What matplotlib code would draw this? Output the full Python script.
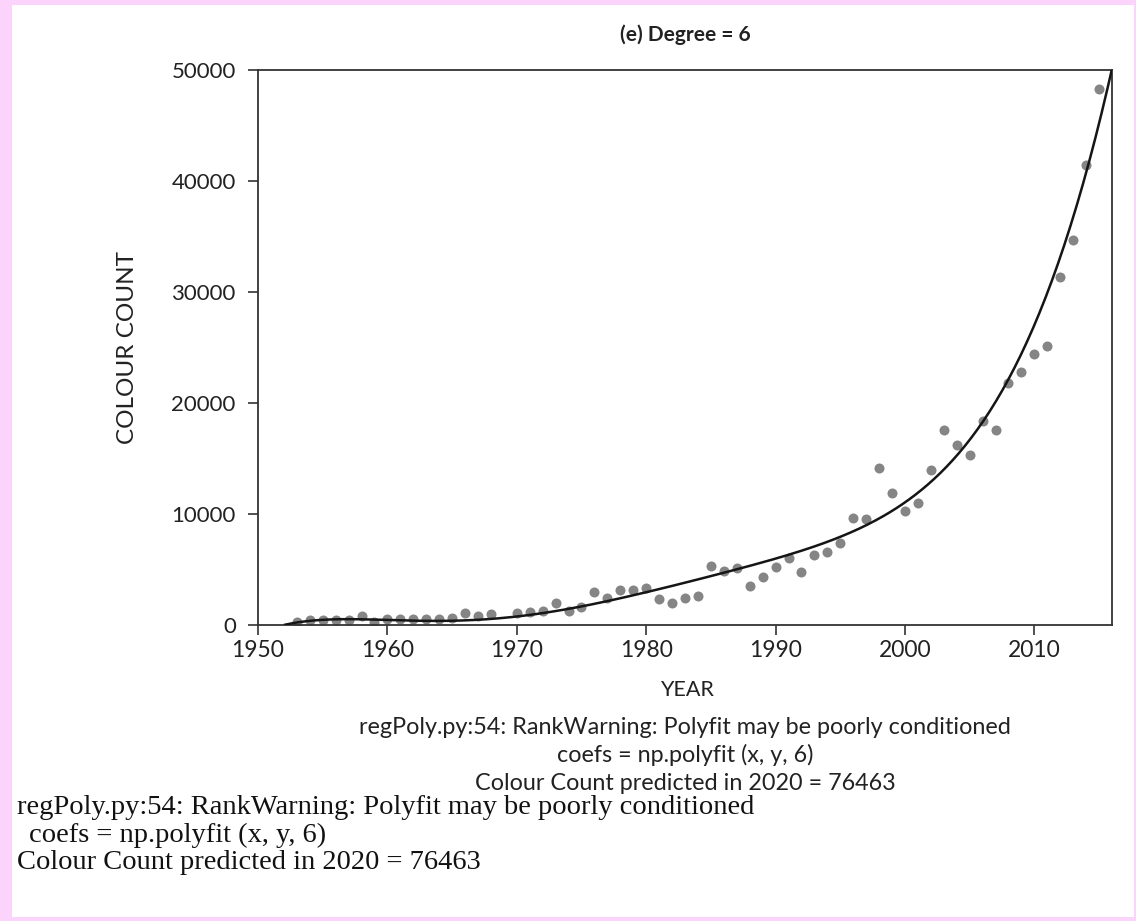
import numpy as np
import matplotlib
matplotlib.use("Agg")
import matplotlib.pyplot as plt
from matplotlib.patches import Rectangle

# Colour count per year
years = [1953, 1954, 1955, 1956, 1957, 1958, 1959, 1960, 1961, 1962, 1963,
         1964, 1965, 1966, 1967, 1968, 1970, 1971, 1972, 1973, 1974, 1975,
         1976, 1977, 1978, 1979, 1980, 1981, 1982, 1983, 1984, 1985, 1986,
         1987, 1988, 1989, 1990, 1991, 1992, 1993, 1994, 1995, 1996, 1997,
         1998, 1999, 2000, 2001, 2002, 2003, 2004, 2005, 2006, 2007, 2008,
         2009, 2010, 2011, 2012, 2013, 2014, 2015]
colour_count = [250, 450, 450, 450, 450, 780, 300, 540, 540, 540, 540,
                540, 600, 1050, 840, 990, 1050, 1200, 1230, 1980, 1230, 1650,
                2940, 2400, 3150, 3150, 3300, 2340, 1950, 2430, 2640, 5280, 4880,
                5100, 3530, 4340, 5190, 6000, 4740, 6290, 6590, 7350, 9620, 9530,
                14180, 11870, 10250, 11030, 13940, 17540, 16190, 15310, 18370, 17560, 21830,
                22820, 24430, 25120, 31320, 34710, 41460, 48290]

# Degree-6 trend curve, sampled every two years
trend_years = [1952, 1954, 1956, 1958, 1960, 1962, 1964, 1966, 1968, 1970,
               1972, 1974, 1976, 1978, 1980, 1982, 1984, 1986, 1988, 1990,
               1992, 1994, 1996, 1998, 2000, 2002, 2004, 2006, 2008, 2010,
               2012, 2014, 2016]
trend_values = [0, 450, 480, 430, 400, 400, 420, 460, 540, 780,
                1100, 1450, 2050, 2500, 2900, 3300, 3950, 4600, 5330, 6000,
                6750, 7700, 8580, 9600, 11100, 12950, 15300, 18200, 21700, 26500,
                33500, 41750, 49500]

degree = 6
x_ticks = [1950, 1960, 1970, 1980, 1990, 2000, 2010]
y_ticks = [0, 10000, 20000, 30000, 40000, 50000]
predict_year = 2020
predicted_count = 76463

W, H = 1136, 921
fig = plt.figure(figsize=(W / 100, H / 100), dpi=100)
fig.patch.set_facecolor("#FBD3FB")
fig.patches.append(Rectangle((12 / W, 4 / H), (W - 14) / W, (H - 9) / H,
                             transform=fig.transFigure, facecolor="white",
                             edgecolor="none", zorder=-5))


def fx(px):
    return px / W


def fy(py):
    return 1 - py / H


sans = "Lato"
serif = "Liberation Serif"
ink = "#222222"

ax = fig.add_axes([fx(258), fy(625), fx(1112) - fx(258), fy(70) - fy(625)])
ax.set_facecolor("white")
ax.scatter(years, colour_count, s=52, color="#858585", linewidths=0, zorder=2)

trend = np.polynomial.Polynomial.fit(trend_years, trend_values, degree)
xs = np.linspace(1952.1, trend_years[-1], 400)
ax.plot(xs, trend(xs), color="#151515", lw=1.8, zorder=3)

ax.set_xlim(1950, 2016)
ax.set_ylim(0, 50000)
ax.set_xticks(x_ticks)
ax.set_yticks(y_ticks)
ax.set_xticklabels([str(t) for t in x_ticks], fontfamily=sans, fontsize=16.5, color=ink)
ax.set_yticklabels([str(t) for t in y_ticks], fontfamily=sans, fontsize=16, color=ink)
ax.tick_params(direction="out", length=7, width=1.2, color="#333333")
ax.tick_params(axis="x", pad=4)
ax.tick_params(axis="y", pad=9)
for s in ax.spines.values():
    s.set_color("#333333")
    s.set_linewidth(1.3)

fig.text(fx(685), fy(35), "(e) Degree = 6", ha="center", va="center",
         fontfamily=sans, fontsize=15, fontweight="bold", color=ink)
fig.text(fx(128), fy(348), "COLOUR COUNT", ha="center", va="center",
         rotation=90, fontfamily=sans, fontsize=17.5, color=ink)
fig.text(fx(687), fy(690), "YEAR", ha="center", va="center",
         fontfamily=sans, fontsize=15.5, color=ink)

warn = "regPoly.py:54: RankWarning: Polyfit may be poorly conditioned"
call = f"coefs = np.polyfit (x, y, {degree})"
pred = f"Colour Count predicted in {predict_year} = {predicted_count}"

for py, line in zip([727, 755, 783], [warn, call, pred]):
    fig.text(fx(685), fy(py), line, ha="center", va="center",
             fontfamily=sans, fontsize=16.8, color=ink)

for px, py, line in zip([17, 29, 17], [808, 835, 862], [warn, call, pred]):
    fig.text(fx(px), fy(py), line, ha="left", va="center",
             fontfamily=serif, fontsize=20.5, color="#111111")

fig.savefig("out.png", dpi=100, facecolor=fig.get_facecolor())
